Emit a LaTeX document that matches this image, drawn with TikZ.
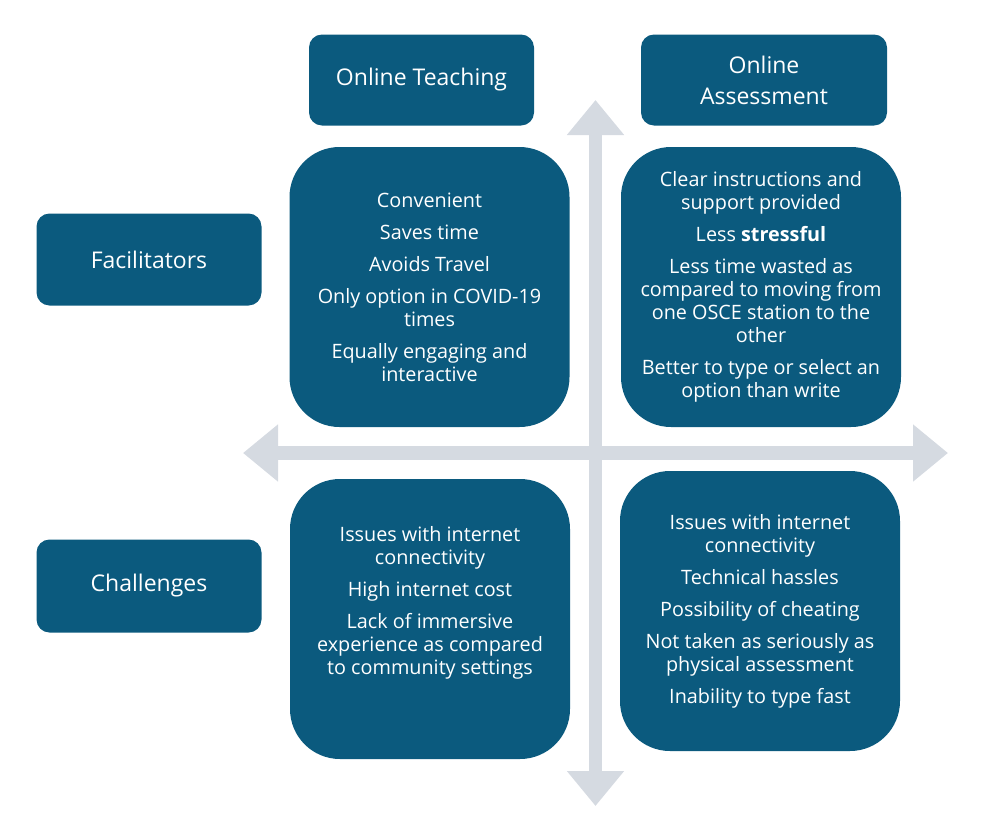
\documentclass[tikz,border=0pt]{standalone}
\usepackage{fontspec}
\setmainfont{Open Sans}
\usetikzlibrary{arrows.meta}
\definecolor{boxblue}{HTML}{0B5A7E}
\definecolor{axisgray}{HTML}{D5DAE1}
\begin{document}
\begin{tikzpicture}[x=1pt, y=-1pt,
    every node/.style={
        fill=boxblue,
        text=white,
        align=center,
        inner sep=0pt},
    headbox/.style={
        rounded corners=13pt,
        minimum height=91pt,
        font=\fontsize{23}{31}\selectfont},
    quadbox/.style={
        rounded corners=50pt,
        minimum width=280pt,
        minimum height=280pt},
    itemtext/.style={
        fill=none,
        font=\fontsize{19.8}{23}\selectfont},
    axis/.style={
        draw=axisgray,
        line width=13.5pt,
        arrows={Triangle[width=55pt,length=35pt]-Triangle[width=55pt,length=35pt]}}]

    \useasboundingbox (0,0) rectangle (986,836);

    \coordinate (W) at (243,453);
    \coordinate (E) at (948,453);
    \coordinate (N) at (595.5,100);
    \coordinate (S) at (595.5,806);

    \draw[axis] (W) -- (E);
    \draw[axis] (N) -- (S);

    \node[headbox, minimum width=225pt] (teach) at (421.5,80) {Online Teaching};
    \node[headbox, minimum width=246pt] (assess) at (764,80) {Online\\Assessment};
    \node[headbox, minimum width=225pt, minimum height=92pt] (facil) at (149,259.5) {Facilitators};
    \node[headbox, minimum width=225pt, minimum height=93pt] (chall) at (149,586) {Challenges};

    \node[quadbox] (tl) at (429.5,287) {};
    \node[quadbox] (tr) at (761,287) {};
    \node[quadbox] (bl) at (430,619) {};
    \node[quadbox] (br) at (760,611) {};

    \node[itemtext] at (tl.center) {Convenient\\[9pt]Saves time\\[9pt]Avoids Travel\\[9pt]
        Only option in COVID-19\\times\\[9pt]Equally engaging and\\interactive};
    \node[itemtext] at (tr.center) {Clear instructions and\\support provided\\[9pt]
        Less \textbf{stressful}\\[9pt]Less time wasted as\\compared to moving from\\
        one OSCE station to the\\other\\[9pt]Better to type or select an\\option than write};
    \node[itemtext] at ([yshift=16.5pt]bl.center) {Issues with internet\\connectivity\\[9pt]
        High internet cost\\[9pt]Lack of immersive\\experience as compared\\to community settings};
    \node[itemtext] at (br.center) {Issues with internet\\connectivity\\[9pt]Technical hassles\\[9pt]
        Possibility of cheating\\[9pt]Not taken as seriously as\\physical assessment\\[9pt]
        Inability to type fast};
\end{tikzpicture}
\end{document}
